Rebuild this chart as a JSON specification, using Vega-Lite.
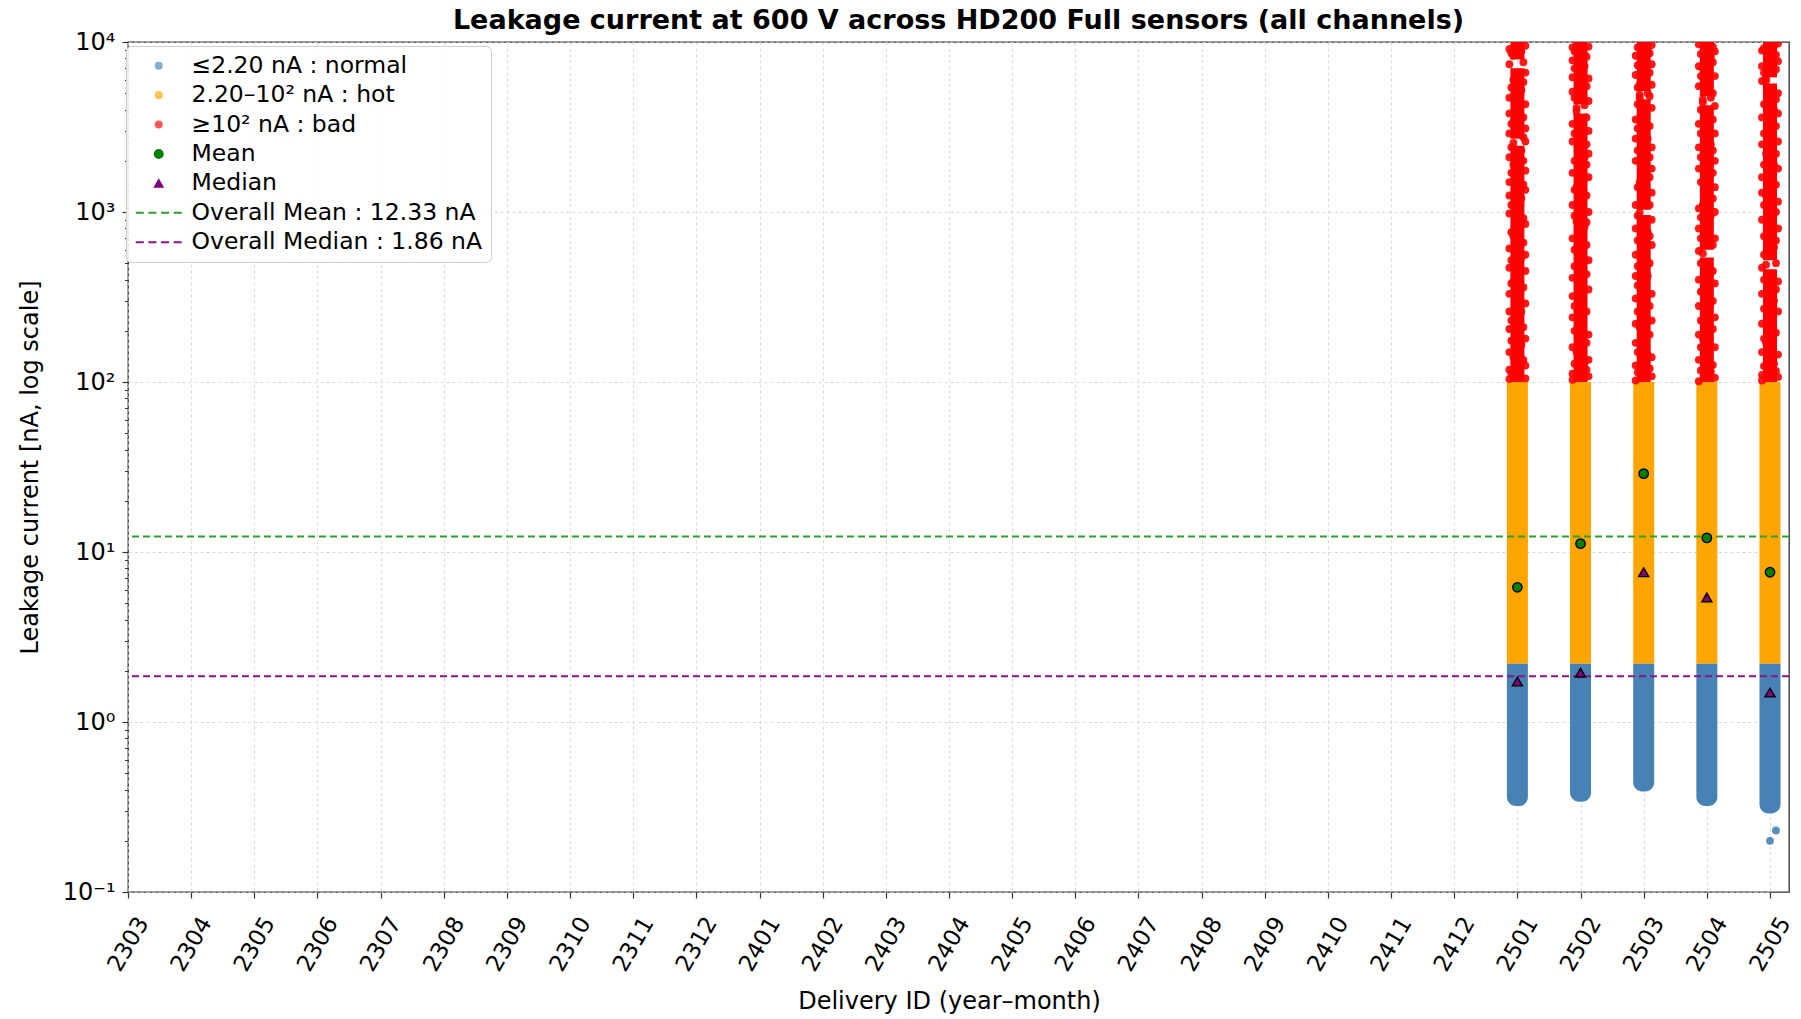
{
  "$schema": "https://vega.github.io/schema/vega-lite/v6.json",
  "width": 1661,
  "height": 850,
  "autosize": {"type": "none"},
  "padding": {"left": 128, "top": 42, "right": 12, "bottom": 127},
  "background": "white",
  "title": {
    "text": "Leakage current at 600 V across HD200 Full sensors (all channels)",
    "font": "DejaVu Sans", "fontSize": 27, "fontWeight": "bold", "color": "black",
    "anchor": "middle", "baseline": "alphabetic", "offset": 10, "dy": 36
  },
  "config": {
    "view": {"stroke": "#333333", "strokeWidth": 1.3},
    "axis": {
      "labelFont": "DejaVu Sans", "titleFont": "DejaVu Sans",
      "labelColor": "black", "titleColor": "black", "titleFontWeight": "normal",
      "labelFontSize": 23, "titleFontSize": 24,
      "tickColor": "#333333", "tickWidth": 1.2, "tickSize": 6,
      "domain": false,
      "gridColor": "#cfcfcf", "gridDash": [3, 3], "gridWidth": 0.8
    }
  },
  "resolve": {"axis": {"y": "independent"}},
  "datasets": {
    "bands": [
      {"d": "2501", "s": "normal", "lo": 0.32, "hi": 2.2},
      {"d": "2501", "s": "hot", "lo": 2.2, "hi": 100},
      {"d": "2501", "s": "bad", "lo": 100, "hi": 2450},
      {"d": "2501", "s": "bad", "lo": 2700, "hi": 7000},
      {"d": "2501", "s": "bad", "lo": 7900, "hi": 10000},
      {"d": "2502", "s": "normal", "lo": 0.34, "hi": 2.2},
      {"d": "2502", "s": "hot", "lo": 2.2, "hi": 100},
      {"d": "2502", "s": "bad", "lo": 100, "hi": 3800},
      {"d": "2502", "s": "bad", "lo": 4300, "hi": 10000},
      {"d": "2503", "s": "normal", "lo": 0.39, "hi": 2.2},
      {"d": "2503", "s": "hot", "lo": 2.2, "hi": 100},
      {"d": "2503", "s": "bad", "lo": 100, "hi": 960},
      {"d": "2503", "s": "bad", "lo": 1030, "hi": 4600},
      {"d": "2503", "s": "bad", "lo": 5150, "hi": 10000},
      {"d": "2504", "s": "normal", "lo": 0.32, "hi": 2.2},
      {"d": "2504", "s": "hot", "lo": 2.2, "hi": 100},
      {"d": "2504", "s": "bad", "lo": 100, "hi": 540},
      {"d": "2504", "s": "bad", "lo": 600, "hi": 4250},
      {"d": "2504", "s": "bad", "lo": 4800, "hi": 10000},
      {"d": "2505", "s": "normal", "lo": 0.29, "hi": 2.2},
      {"d": "2505", "s": "hot", "lo": 2.2, "hi": 100},
      {"d": "2505", "s": "bad", "lo": 100, "hi": 460},
      {"d": "2505", "s": "bad", "lo": 520, "hi": 5700},
      {"d": "2505", "s": "bad", "lo": 6200, "hi": 10000}
    ],
    "pts": [
      {"d": "2501", "s": "bad", "j": -8, "v": [104, 118, 150, 205, 260, 330, 470, 610, 980, 1250, 1500, 2100, 2900, 3800, 4700, 7400, 9100]},
      {"d": "2501", "s": "bad", "j": -6, "v": [112, 175, 230, 380, 520, 760, 1100, 1700, 2400, 3300, 5400, 8600]},
      {"d": "2501", "s": "bad", "j": -4, "v": [140, 390, 720, 1900, 2550, 3400, 6000, 8300]},
      {"d": "2501", "s": "bad", "j": 4, "v": [165, 260, 540, 1200, 2300, 5200, 8800]},
      {"d": "2501", "s": "bad", "j": 6, "v": [135, 210, 360, 660, 920, 1450, 2000, 2750, 3600, 5800, 7600]},
      {"d": "2501", "s": "bad", "j": 8, "v": [105, 125, 180, 290, 450, 560, 850, 1350, 1750, 2600, 3100, 4300, 6600, 9500]},
      {"d": "2502", "s": "bad", "j": -8, "v": [103, 112, 160, 240, 320, 410, 700, 1100, 1700, 2600, 3300, 5100, 6200, 7800, 9300]},
      {"d": "2502", "s": "bad", "j": -6, "v": [128, 200, 280, 480, 600, 950, 1350, 2000, 2900, 4700, 7000, 8800]},
      {"d": "2502", "s": "bad", "j": -4, "v": [150, 880, 1400, 3900, 4100, 9600]},
      {"d": "2502", "s": "bad", "j": 4, "v": [130, 520, 820, 2100, 4250, 7200]},
      {"d": "2502", "s": "bad", "j": 6, "v": [118, 170, 260, 430, 640, 870, 1250, 1900, 2500, 3600, 5500, 8200]},
      {"d": "2502", "s": "bad", "j": 8, "v": [108, 135, 190, 350, 520, 1000, 1600, 2200, 3000, 4500, 6100, 9400]},
      {"d": "2503", "s": "bad", "j": -8, "v": [102, 125, 170, 220, 310, 420, 560, 800, 1100, 2000, 2700, 3500, 6400, 8300]},
      {"d": "2503", "s": "bad", "j": -6, "v": [114, 150, 260, 370, 480, 680, 950, 1400, 2300, 3100, 4300, 5400, 7300, 9300]},
      {"d": "2503", "s": "bad", "j": -4, "v": [210, 990, 1500, 4700, 4900, 5600]},
      {"d": "2503", "s": "bad", "j": 4, "v": [145, 420, 760, 2700, 5000, 9000]},
      {"d": "2503", "s": "bad", "j": 6, "v": [120, 190, 280, 500, 720, 1100, 1600, 2100, 3200, 4800, 6600, 8600]},
      {"d": "2503", "s": "bad", "j": 8, "v": [108, 140, 230, 330, 640, 900, 1300, 1800, 2400, 4100, 5600, 7400, 9600]},
      {"d": "2504", "s": "bad", "j": -8, "v": [101, 135, 190, 280, 400, 590, 800, 1050, 1800, 2400, 3300, 5500, 7200, 9700]},
      {"d": "2504", "s": "bad", "j": -6, "v": [117, 160, 230, 340, 500, 700, 930, 1500, 2100, 2900, 4000, 6300, 8500]},
      {"d": "2504", "s": "bad", "j": -4, "v": [180, 570, 1100, 4400, 4600, 7000]},
      {"d": "2504", "s": "bad", "j": 4, "v": [115, 440, 950, 2500, 4700, 8200]},
      {"d": "2504", "s": "bad", "j": 6, "v": [126, 205, 300, 450, 640, 1200, 1700, 2300, 3500, 5000, 7600, 9400]},
      {"d": "2504", "s": "bad", "j": 8, "v": [106, 160, 240, 380, 700, 1000, 1400, 2000, 2900, 4200, 6300, 8800]},
      {"d": "2505", "s": "bad", "j": -8, "v": [102, 110, 150, 220, 330, 470, 900, 1300, 1600, 2500, 3600, 5900, 7200, 8900]},
      {"d": "2505", "s": "bad", "j": -6, "v": [124, 180, 270, 400, 560, 720, 1100, 1900, 2900, 4300, 6600, 9200]},
      {"d": "2505", "s": "bad", "j": -4, "v": [170, 490, 1250, 2200, 5900, 6100]},
      {"d": "2505", "s": "bad", "j": 4, "v": [128, 300, 620, 1900, 4000, 9500]},
      {"d": "2505", "s": "bad", "j": 6, "v": [116, 195, 350, 500, 680, 1000, 1450, 2200, 3200, 4600, 6900, 8400]},
      {"d": "2505", "s": "bad", "j": 8, "v": [107, 145, 260, 390, 800, 1150, 1800, 2600, 3800, 5000, 7700, 9800]},
      {"d": "2505", "s": "normal", "j": 6, "v": [0.23]},
      {"d": "2505", "s": "normal", "j": 0, "v": [0.2]}
    ],
    "stats": [
      {"d": "2501", "s": "Mean", "v": 6.2},
      {"d": "2502", "s": "Mean", "v": 11.2},
      {"d": "2503", "s": "Mean", "v": 28.9},
      {"d": "2504", "s": "Mean", "v": 12.1},
      {"d": "2505", "s": "Mean", "v": 7.6},
      {"d": "2501", "s": "Median", "v": 1.73},
      {"d": "2502", "s": "Median", "v": 1.95},
      {"d": "2503", "s": "Median", "v": 7.6},
      {"d": "2504", "s": "Median", "v": 5.4},
      {"d": "2505", "s": "Median", "v": 1.49}
    ],
    "overall": [
      {"s": "Overall Mean", "v": 12.33},
      {"s": "Overall Median", "v": 1.86}
    ]
  },
  "encoding": {
    "color": {
      "field": "s", "type": "nominal",
      "scale": {
        "domain": ["normal", "hot", "bad", "Mean", "Median", "Overall Mean", "Overall Median"],
        "range": ["#4682b4", "#ffa500", "#ff0000", "#008000", "#800080", "#2ca02c", "#8b138b"]
      },
      "legend": {
        "orient": "none", "legendX": -2, "legendY": 4,
        "title": null,
        "labelFont": "DejaVu Sans", "labelFontSize": 23.5, "labelColor": "black", "labelLimit": 500,
        "symbolSize": 64, "symbolOffset": 13, "labelOffset": 21, "padding": 8, "rowPadding": 4.4,
        "fillColor": "rgba(255,255,255,0.85)", "strokeColor": "#cccccc", "cornerRadius": 5,
        "labelExpr": "datum.value == 'normal' ? '≤2.20 nA : normal' : datum.value == 'hot' ? '2.20–10² nA : hot' : datum.value == 'bad' ? '≥10² nA : bad' : datum.value == 'Overall Mean' ? 'Overall Mean : 12.33 nA' : datum.value == 'Overall Median' ? 'Overall Median : 1.86 nA' : datum.label",
        "encode": {
          "symbols": {
            "update": {
              "shape": {"signal": "datum.value == 'Median' ? 'triangle-up' : (datum.value == 'Overall Mean' || datum.value == 'Overall Median') ? 'M-1,0H-0.65M-0.45,0H-0.1M0.1,0H0.45M0.65,0H1' : 'circle'"},
              "size": {"signal": "(datum.value == 'Overall Mean' || datum.value == 'Overall Median') ? 2116 : (datum.value == 'Mean' || datum.value == 'Median') ? 75 : 65"},
              "stroke": {"signal": "(datum.value == 'Mean' || datum.value == 'Median') ? 'black' : (datum.value == 'Overall Mean' || datum.value == 'Overall Median') ? scale('color', datum.value) : 'transparent'"},
              "strokeWidth": {"signal": "(datum.value == 'Overall Mean' || datum.value == 'Overall Median') ? 2 : (datum.value == 'Mean' || datum.value == 'Median') ? 1.3 : 0"},
              "fillOpacity": {"signal": "(datum.value == 'normal' || datum.value == 'hot' || datum.value == 'bad') ? 0.65 : 1"},
              "opacity": {"value": 1}
            }
          }
        }
      }
    }
  },
  "layer": [
    {
      "data": {"name": "bands"},
      "transform": [{"filter": "datum.s == 'hot'"}],
      "mark": {"type": "bar", "width": 21},
      "encoding": {
        "x": {
          "field": "d", "type": "ordinal",
          "scale": {"type": "point", "padding": 0, "range": [0, 1642],
            "domain": ["2303","2304","2305","2306","2307","2308","2309","2310","2311","2312","2401","2402","2403","2404","2405","2406","2407","2408","2409","2410","2411","2412","2501","2502","2503","2504","2505"]},
          "axis": {
            "title": "Delivery ID (year–month)", "labelAngle": -60, "labelAlign": "center", "labelBaseline": "middle",
            "labelPadding": 46, "labelOverlap": false, "titleY": 116, "titleBaseline": "alphabetic", "grid": true
          }
        },
        "y": {
          "field": "lo", "type": "quantitative",
          "scale": {"type": "log", "domain": [0.1, 10000], "nice": false},
          "axis": {
            "title": "Leakage current [nA, log scale]",
            "values": [0.1, 1, 10, 100, 1000, 10000],
            "labelExpr": "datum.value < 0.5 ? '10⁻¹' : datum.value < 5 ? '10⁰' : datum.value < 50 ? '10¹' : datum.value < 500 ? '10²' : datum.value < 5000 ? '10³' : '10⁴'",
            "labelFontSize": 24,
            "labelPadding": 7, "titleX": -98, "titleY": 425, "titleAngle": -90, "titleAlign": "center", "titleBaseline": "middle",
            "grid": true
          }
        },
        "y2": {"field": "hi"}
      }
    },
    {
      "data": {"name": "bands"},
      "transform": [{"filter": "datum.s == 'normal'"}],
      "mark": {"type": "bar", "width": 21, "cornerRadiusBottomLeft": 9, "cornerRadiusBottomRight": 9},
      "encoding": {
        "x": {"field": "d", "type": "ordinal"},
        "y": {"field": "lo", "type": "quantitative", "scale": {"type": "log", "domain": [0.1, 10000], "nice": false}, "axis": null},
        "y2": {"field": "hi"}
      }
    },
    {
      "data": {"name": "bands"},
      "transform": [{"filter": "datum.s == 'bad'"}],
      "mark": {"type": "bar", "width": 14},
      "encoding": {
        "x": {"field": "d", "type": "ordinal"},
        "y": {"field": "lo", "type": "quantitative", "scale": {"type": "log", "domain": [0.1, 10000], "nice": false}, "axis": null},
        "y2": {"field": "hi"}
      }
    },
    {
      "data": {"name": "pts"},
      "transform": [{"flatten": ["v"]}],
      "mark": {"type": "point", "filled": true, "size": 62, "opacity": 0.9, "clip": true},
      "encoding": {
        "x": {"field": "d", "type": "ordinal"},
        "xOffset": {"field": "j", "type": "quantitative", "scale": {"domain": [-10, 10], "range": [-10, 10]}},
        "y": {"field": "v", "type": "quantitative", "scale": {"type": "log", "domain": [0.1, 10000], "nice": false}, "axis": null}
      }
    },
    {
      "data": {"name": "overall"},
      "mark": {"type": "rule", "strokeDash": [7, 4], "strokeWidth": 2},
      "encoding": {
        "y": {
          "field": "v", "type": "quantitative", "scale": {"type": "log", "domain": [0.1, 10000], "nice": false},
          "axis": {
            "orient": "left", "title": null, "labels": false, "grid": false, "tickSize": 3.5, "tickWidth": 1,
            "values": [0.2,0.3,0.4,0.5,0.6,0.7,0.8,0.9,2,3,4,5,6,7,8,9,20,30,40,50,60,70,80,90,200,300,400,500,600,700,800,900,2000,3000,4000,5000,6000,7000,8000,9000]
          }
        }
      }
    },
    {
      "data": {"name": "stats"},
      "transform": [{"filter": "datum.s == 'Mean'"}],
      "mark": {"type": "point", "filled": true, "shape": "circle", "size": 88, "stroke": "black", "strokeWidth": 1.4, "opacity": 1},
      "encoding": {
        "x": {"field": "d", "type": "ordinal"},
        "y": {"field": "v", "type": "quantitative", "scale": {"type": "log", "domain": [0.1, 10000], "nice": false}, "axis": null}
      }
    },
    {
      "data": {"name": "stats"},
      "transform": [{"filter": "datum.s == 'Median'"}],
      "mark": {"type": "point", "filled": true, "shape": "triangle-up", "size": 100, "stroke": "black", "strokeWidth": 1.4, "opacity": 1},
      "encoding": {
        "x": {"field": "d", "type": "ordinal"},
        "y": {"field": "v", "type": "quantitative", "scale": {"type": "log", "domain": [0.1, 10000], "nice": false}, "axis": null}
      }
    }
  ]
}
